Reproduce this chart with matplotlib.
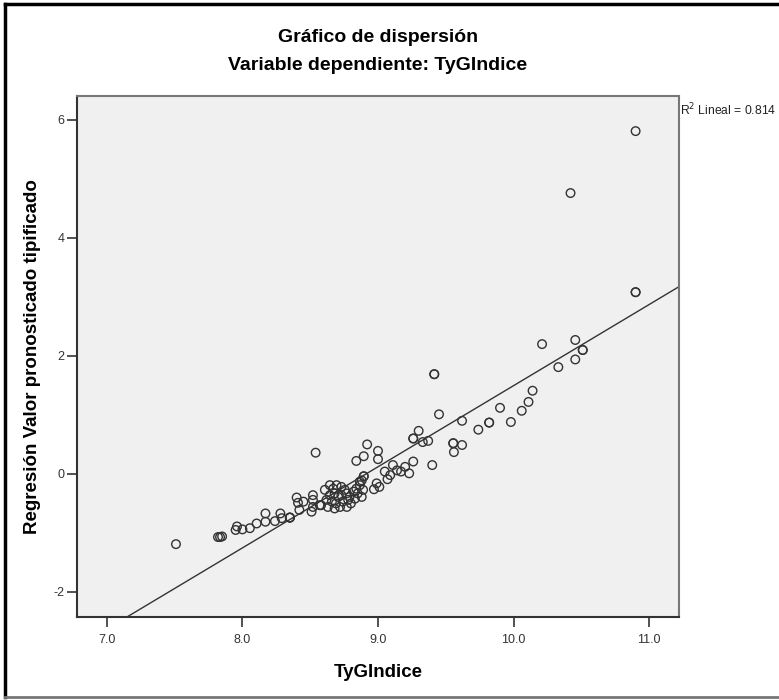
import matplotlib
matplotlib.use("Agg")
import matplotlib.pyplot as plt
from matplotlib.lines import Line2D
import numpy as np

plt.rcParams['font.family'] = ['Liberation Sans', 'DejaVu Sans']

title = "Gráfico de dispersión"
subtitle = "Variable dependiente: TyGIndice"
x_label = "TyGIndice"
y_label = "Regresión Valor pronosticado tipificado"
r2_text = "R$^2$ Lineal = 0.814"

x_ticks = [7.0, 8.0, 9.0, 10.0, 11.0]
x_tick_labels = ["7.0", "8.0", "9.0", "10.0", "11.0"]
y_ticks = [-2, 0, 2, 4, 6]
y_tick_labels = ["-2", "0", "2", "4", "6"]

# TyGIndice values
tyg = [
    10.90, 10.42, 10.90, 10.90, 10.21, 10.455, 10.51, 10.51, 10.455, 10.33,
    10.14, 10.11, 10.06, 9.98, 9.90, 9.82, 9.82, 9.74, 9.62, 9.62,
    9.555, 9.555, 9.56, 9.415, 9.415, 9.45, 9.40, 9.30, 9.26, 9.26,
    9.33, 9.37, 9.26, 9.23, 9.20, 9.17, 9.14, 9.11, 9.05, 9.07,
    9.09, 8.99, 9.01, 8.97, 9.00, 9.00, 8.92, 8.895, 8.84, 8.895,
    8.895, 8.88, 8.54,
    8.608, 8.645, 8.67, 8.694, 8.73, 8.755, 8.645, 8.68, 8.706, 8.73,
    8.77, 8.79, 8.82, 8.84, 8.866, 8.85, 8.88, 8.83, 8.62, 8.66,
    8.69, 8.74, 8.78, 8.80, 8.58, 8.63, 8.72, 8.77, 8.866, 8.89,
    8.68,
    8.52, 8.52, 8.52, 8.51, 8.57, 8.40, 8.41, 8.42, 8.45, 8.35,
    8.35, 8.35, 8.28, 8.29, 8.24, 8.17, 8.17, 8.105, 8.055, 8.00,
    7.95, 7.96, 7.82, 7.835, 7.85, 7.51,
]
# Standardized predicted values
pred = [
    5.81, 4.76, 3.08, 3.08, 2.20, 2.27, 2.10, 2.10, 1.94, 1.81,
    1.41, 1.22, 1.07, 0.88, 1.12, 0.87, 0.87, 0.75, 0.90, 0.49,
    0.52, 0.52, 0.37, 1.69, 1.69, 1.01, 0.15, 0.73, 0.60, 0.60,
    0.54, 0.56, 0.21, 0.01, 0.12, 0.04, 0.06, 0.15, 0.04, -0.09,
    -0.02, -0.16, -0.22, -0.26, 0.39, 0.25, 0.50, 0.30, 0.22, -0.04,
    -0.04, -0.11, 0.36,
    -0.27, -0.19, -0.25, -0.19, -0.22, -0.27, -0.36, -0.33, -0.39, -0.36,
    -0.33, -0.39, -0.30, -0.25, -0.19, -0.33, -0.39, -0.42, -0.44, -0.47,
    -0.50, -0.47, -0.44, -0.50, -0.53, -0.56, -0.56, -0.56, -0.13, -0.27,
    -0.585,
    -0.36, -0.44, -0.56, -0.64, -0.53, -0.40, -0.49, -0.61, -0.47, -0.74,
    -0.74, -0.74, -0.67, -0.75, -0.80, -0.67, -0.81, -0.84, -0.92, -0.94,
    -0.95, -0.89, -1.07, -1.07, -1.06, -1.19,
]

# Linear fit line
fit_slope = 1.375
fit_intercept = -12.254

x_limits = (6.78, 11.22)
y_limits = (-2.43, 6.41)

W, H = 779, 700
fig = plt.figure(figsize=(W / 100, H / 100), dpi=100)
fig.patch.set_facecolor('white')

ax = fig.add_axes([77 / W, 1 - 617.3 / H, (679 - 77) / W, (617.3 - 95.7) / H])
ax.set_facecolor('#f0f0f0')

ax.scatter(tyg, pred, s=38, facecolors='none', edgecolors='#333333',
           linewidths=1.0, zorder=3)
ax.axline((0, fit_intercept), slope=fit_slope, color='#333333', lw=1.0, zorder=2)

ax.set_xlim(*x_limits)
ax.set_ylim(*y_limits)
ax.set_xticks(x_ticks)
ax.set_xticklabels(x_tick_labels)
ax.set_yticks(y_ticks)
ax.set_yticklabels(y_tick_labels)
ax.tick_params(axis='both', direction='out', length=7, width=1.2,
               color='#333333', labelsize=9, labelcolor='#333333', pad=2)
ax.tick_params(axis='x', pad=5)

for side in ['left', 'bottom']:
    ax.spines[side].set_color('#333333')
    ax.spines[side].set_linewidth(1.5)
for side in ['right', 'top']:
    ax.spines[side].set_color('#777777')
    ax.spines[side].set_linewidth(1.5)

ax.set_xlabel(x_label, fontsize=13.5, fontweight='bold', labelpad=13)
ax.set_ylabel(y_label, fontsize=13.5, fontweight='bold', labelpad=9)

cx = 0.5 * (77 + 679) / W
fig.text(cx, 1 - 38 / H, title, ha='center', va='center',
         fontsize=14, fontweight='bold')
fig.text(cx, 1 - 66 / H, subtitle, ha='center', va='center',
         fontsize=14, fontweight='bold')
fig.text(680 / W, 1 - 110 / H, r2_text, ha='left', va='center', fontsize=8.7,
         color='#222222')

# outer frame
fig.add_artist(Line2D([5 / W, 5 / W], [1 - 4 / H, 1 - 697 / H], color='black',
                      lw=2.5, transform=fig.transFigure))
fig.add_artist(Line2D([5 / W, 1.0], [1 - 4 / H, 1 - 4 / H], color='black',
                      lw=2.5, transform=fig.transFigure))
fig.add_artist(Line2D([5 / W, 1.0], [1 - 697 / H, 1 - 697 / H], color='#777777',
                      lw=2.0, transform=fig.transFigure))

fig.savefig('out.png', dpi=100, facecolor='white')
